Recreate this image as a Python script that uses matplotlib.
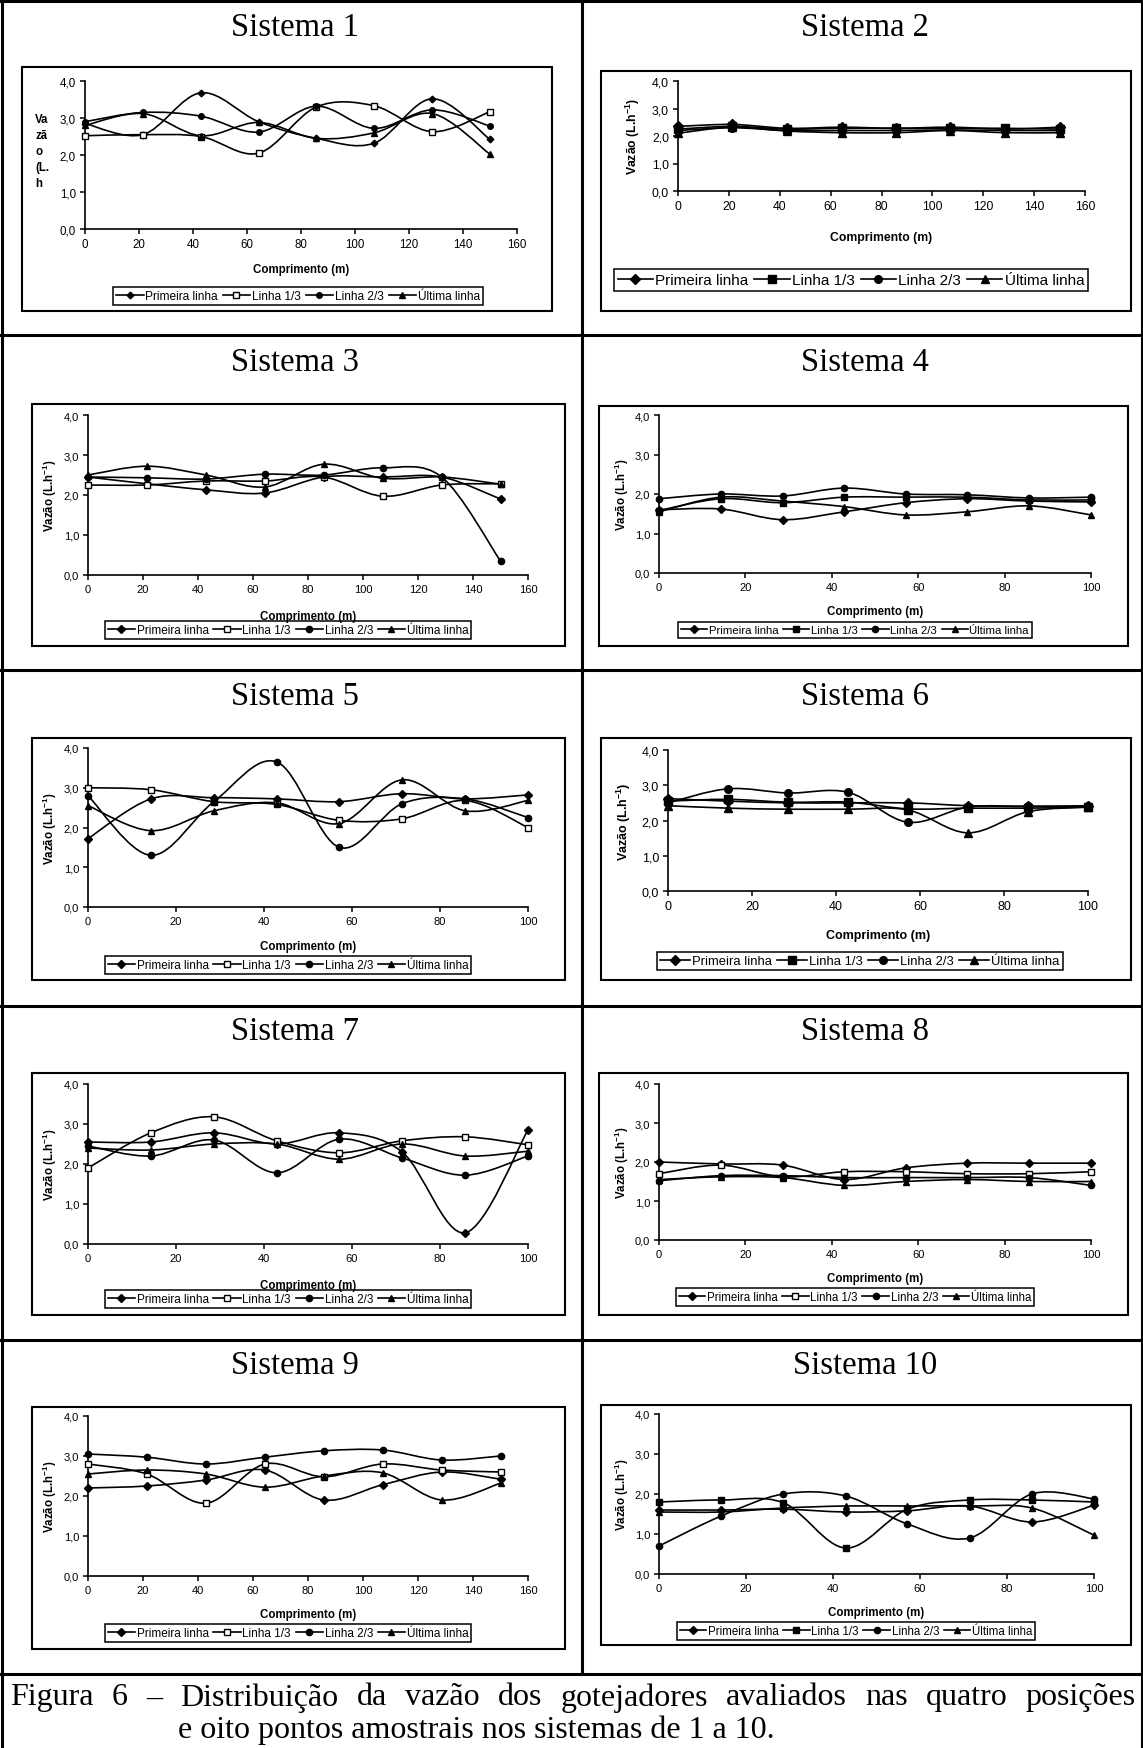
import numpy as np
import matplotlib
matplotlib.use('Agg')
import matplotlib.pyplot as plt
from matplotlib.path import Path
from matplotlib.patches import PathPatch, Rectangle
from matplotlib.lines import Line2D

plt.rcParams['font.family'] = ['Liberation Sans', 'DejaVu Sans']
plt.rcParams['mathtext.fontset'] = 'custom'
plt.rcParams['mathtext.rm'] = 'Liberation Sans:bold'
plt.rcParams['mathtext.it'] = 'Liberation Sans:bold'
plt.rcParams['mathtext.bf'] = 'Liberation Sans:bold'

W, H = 1143, 1749

# comprimento da linha lateral (m), oito pontos amostrais
x150 = [0, 21.4, 42.9, 64.3, 85.7, 107.1, 128.6, 150]
x100 = [0, 14.3, 28.6, 42.9, 57.1, 71.4, 85.7, 100]

series_names = ['Primeira linha', 'Linha 1/3', 'Linha 2/3', 'Última linha']

# vazão (L/h) por sistema e posição
s1_p1 = [2.85, 2.55, 3.68, 2.90, 2.45, 2.32, 3.52, 2.42]
s1_l13 = [2.52, 2.55, 2.50, 2.05, 3.30, 3.33, 2.63, 3.17]
s1_l23 = [2.90, 3.15, 3.05, 2.62, 3.32, 2.72, 3.22, 2.78]
s1_ult = [2.80, 3.12, 2.52, 2.88, 2.45, 2.60, 3.12, 2.02]

s2_p1 = [2.35, 2.42, 2.28, 2.32, 2.28, 2.32, 2.25, 2.32]
s2_l13 = [2.25, 2.35, 2.25, 2.28, 2.28, 2.28, 2.28, 2.25]
s2_l23 = [2.20, 2.30, 2.20, 2.20, 2.20, 2.22, 2.20, 2.20]
s2_ult = [2.10, 2.32, 2.18, 2.12, 2.12, 2.20, 2.12, 2.12]

s3_p1 = [2.45, 2.28, 2.13, 2.05, 2.45, 2.45, 2.45, 1.90]
s3_l13 = [2.25, 2.25, 2.35, 2.35, 2.45, 1.97, 2.25, 2.28]
s3_l23 = [2.45, 2.43, 2.40, 2.52, 2.50, 2.68, 2.45, 0.35]
s3_ult = [2.50, 2.72, 2.50, 2.20, 2.77, 2.42, 2.45, 2.27]

s4_p1 = [1.60, 1.62, 1.35, 1.55, 1.78, 1.88, 1.82, 1.80]
s4_l13 = [1.58, 1.88, 1.78, 1.92, 1.92, 1.92, 1.85, 1.85]
s4_l23 = [1.88, 2.00, 1.95, 2.15, 2.00, 1.98, 1.90, 1.92]
s4_ult = [1.55, 1.92, 1.82, 1.68, 1.47, 1.55, 1.70, 1.47]

s5_p1 = [1.72, 2.72, 2.75, 2.72, 2.65, 2.85, 2.72, 2.82]
s5_l13 = [3.00, 2.95, 2.65, 2.58, 2.18, 2.22, 2.68, 2.00]
s5_l23 = [2.80, 1.30, 2.65, 3.65, 1.50, 2.60, 2.72, 2.25]
s5_ult = [2.55, 1.92, 2.42, 2.62, 2.10, 3.20, 2.42, 2.68]

s6_p1 = [2.62, 2.55, 2.50, 2.50, 2.50, 2.42, 2.40, 2.42]
s6_l13 = [2.55, 2.60, 2.52, 2.52, 2.33, 2.35, 2.35, 2.38]
s6_l23 = [2.50, 2.90, 2.78, 2.80, 1.95, 2.38, 2.40, 2.40]
s6_ult = [2.42, 2.35, 2.32, 2.32, 2.30, 1.65, 2.25, 2.38]

s7_p1 = [2.55, 2.55, 2.78, 2.50, 2.78, 2.30, 0.28, 2.85]
s7_l13 = [1.90, 2.78, 3.18, 2.58, 2.28, 2.58, 2.68, 2.48]
s7_l23 = [2.45, 2.20, 2.60, 1.78, 2.62, 2.15, 1.72, 2.20]
s7_ult = [2.40, 2.35, 2.50, 2.50, 2.12, 2.50, 2.20, 2.32]

s8_p1 = [2.00, 1.95, 1.92, 1.55, 1.85, 1.97, 1.97, 1.97]
s8_l13 = [1.70, 1.92, 1.62, 1.75, 1.75, 1.70, 1.70, 1.75]
s8_l23 = [1.52, 1.65, 1.65, 1.60, 1.60, 1.60, 1.60, 1.40]
s8_ult = [1.55, 1.62, 1.60, 1.40, 1.50, 1.55, 1.50, 1.50]

s9_p1 = [2.20, 2.25, 2.40, 2.65, 1.90, 2.28, 2.60, 2.42]
s9_l13 = [2.80, 2.55, 1.82, 2.80, 2.48, 2.80, 2.65, 2.60]
s9_l23 = [3.05, 2.97, 2.80, 2.97, 3.13, 3.15, 2.90, 3.00]
s9_ult = [2.55, 2.65, 2.55, 2.22, 2.50, 2.58, 1.90, 2.32]

s10_p1 = [1.60, 1.60, 1.62, 1.55, 1.58, 1.70, 1.30, 1.72]
s10_l13 = [1.80, 1.85, 1.78, 0.65, 1.62, 1.85, 1.85, 1.80]
s10_l23 = [0.70, 1.45, 2.00, 1.95, 1.25, 0.90, 2.00, 1.88]
s10_ult = [1.55, 1.55, 1.65, 1.70, 1.70, 1.70, 1.65, 0.97]

systems = [
    (x150, [s1_p1, s1_l13, s1_l23, s1_ult]),
    (x150, [s2_p1, s2_l13, s2_l23, s2_ult]),
    (x150, [s3_p1, s3_l13, s3_l23, s3_ult]),
    (x100, [s4_p1, s4_l13, s4_l23, s4_ult]),
    (x100, [s5_p1, s5_l13, s5_l23, s5_ult]),
    (x100, [s6_p1, s6_l13, s6_l23, s6_ult]),
    (x100, [s7_p1, s7_l13, s7_l23, s7_ult]),
    (x100, [s8_p1, s8_l13, s8_l23, s8_ult]),
    (x150, [s9_p1, s9_l13, s9_l23, s9_ult]),
    (x100, [s10_p1, s10_l13, s10_l23, s10_ult]),
]

caption1 = 'Figura 6 – Distribuição da vazão dos gotejadores avaliados nas quatro posições'
caption2 = 'e oito pontos amostrais nos sistemas de 1 a 10.'

# layout in pixels: title centre, chart box, plot area, legend centre, xlabel y, ylabel x
layout = [
    dict(title=(295, 28), box=(22, 68, 552, 312), ax=(85, 82, 517, 230), leg=(298, 297), xl=270, yl=None, tick=8.3, lab=8.3, legfs=8.6, ms=4.0),
    dict(title=(865, 28), box=(601, 72, 1131, 312), ax=(678, 82, 1085, 192), leg=(851, 281), xl=238, yl=633, tick=8.8, lab=8.8, legfs=11.0, ms=5.5),
    dict(title=(295, 363), box=(32, 405, 565, 647), ax=(88, 416, 528, 576), leg=(288, 631), xl=617, yl=50, tick=8.0, lab=8.3, legfs=8.5, ms=4.5),
    dict(title=(865, 363), box=(599, 407, 1128, 647), ax=(659, 416, 1091, 574), leg=(855, 631), xl=612, yl=622, tick=8.0, lab=8.3, legfs=8.2, ms=4.5),
    dict(title=(295, 697), box=(32, 739, 565, 981), ax=(88, 749, 528, 908), leg=(288, 966), xl=947, yl=50, tick=8.0, lab=8.3, legfs=8.5, ms=4.5),
    dict(title=(865, 697), box=(601, 739, 1131, 981), ax=(668, 751, 1088, 892), leg=(860, 962), xl=936, yl=624, tick=9.0, lab=9.0, legfs=9.4, ms=5.5),
    dict(title=(295, 1032), box=(32, 1074, 565, 1316), ax=(88, 1085, 528, 1245), leg=(288, 1300), xl=1286, yl=50, tick=8.0, lab=8.3, legfs=8.5, ms=4.5),
    dict(title=(865, 1032), box=(599, 1074, 1128, 1316), ax=(659, 1085, 1091, 1241), leg=(855, 1298), xl=1279, yl=622, tick=8.0, lab=8.3, legfs=8.3, ms=4.5),
    dict(title=(295, 1366), box=(32, 1408, 565, 1650), ax=(88, 1417, 528, 1577), leg=(288, 1634), xl=1615, yl=50, tick=8.0, lab=8.3, legfs=8.5, ms=4.5),
    dict(title=(865, 1366), box=(601, 1406, 1131, 1646), ax=(659, 1415, 1094, 1575), leg=(856, 1632), xl=1613, yl=622, tick=8.0, lab=8.3, legfs=8.3, ms=4.5),
]
square_hollow = [True, False, True, False, True, False, True, True, True, False]
markers = ['D', 's', 'o', '^']


def fx(px):
    return px / W


def fy(py):
    return 1 - py / H


def smooth_path(xs, ys):
    # Excel-style smoothed line: cubic Bezier through the data points
    pts = np.column_stack([xs, ys]).astype(float)
    n = len(pts)
    verts = [pts[0]]
    codes = [Path.MOVETO]
    for i in range(n - 1):
        p0 = pts[max(i - 1, 0)]
        p1 = pts[i]
        p2 = pts[i + 1]
        p3 = pts[min(i + 2, n - 1)]
        verts += [p1 + (p2 - p0) / 6, p2 - (p3 - p1) / 6, p2]
        codes += [Path.CURVE4] * 3
    return Path(verts, codes)


fig = plt.figure(figsize=(W / 100, H / 100), dpi=100)
fig.patch.set_facecolor('white')

# table lines
tlw = 2.2
border = [
    ((1.5, 1.5), (1.5, H)),
    ((W - 1.5, W - 1.5), (1.5, H)),
    ((0, W), (1.5, 1.5)),
    ((582, 582), (0, 1675)),
]
for yrow in [336, 671, 1007, 1341, 1675]:
    border.append(((0, W), (yrow, yrow)))
for xs_, ys_ in border:
    fig.add_artist(Line2D([fx(v) for v in xs_], [fy(v) for v in ys_], color='black', lw=tlw,
                          transform=fig.transFigure))

for k, ((xv, data), lay) in enumerate(zip(systems, layout)):
    l, t, r, b = lay['box']
    fig.add_artist(Rectangle((fx(l), fy(b)), fx(r) - fx(l), fy(t) - fy(b), transform=fig.transFigure,
                             facecolor='white', edgecolor='black', lw=1.5, zorder=0))
    fig.text(fx(lay['title'][0]), fy(lay['title'][1]), f'Sistema {k + 1}', family='Liberation Serif',
             fontsize=23.5, ha='center', va='center')

    al, at, ar, ab = lay['ax']
    ax = fig.add_axes([fx(al), fy(ab), fx(ar) - fx(al), fy(at) - fy(ab)])
    ax.patch.set_alpha(0)
    xmax = 160 if xv[-1] > 100 else 100
    ax.set_xlim(0, xmax)
    ax.set_ylim(0, 4)
    ax.set_xticks(np.arange(0, xmax + 1, 20))
    ax.set_yticks(np.arange(0, 4.1, 1.0))
    ax.set_yticklabels([f'{v:.1f}'.replace('.', ',') for v in np.arange(0, 4.1, 1.0)])
    for s in ['top', 'right']:
        ax.spines[s].set_visible(False)
    for s in ['left', 'bottom']:
        ax.spines[s].set_linewidth(1.2)
    ax.tick_params(direction='out', length=3.5, width=1.1, labelsize=lay['tick'], pad=3)

    handles = []
    for i, ys in enumerate(data):
        ax.add_patch(PathPatch(smooth_path(xv, ys), fill=False, edgecolor='black', lw=1.2, zorder=2))
        mfc = 'white' if (i == 1 and square_hollow[k]) else 'black'
        ms = lay['ms'] * (0.85 if i == 0 else 1.0)
        ax.plot(xv, ys, linestyle='none', marker=markers[i], ms=ms, mfc=mfc, mec='black', mew=1.0,
                zorder=3, clip_on=False)
        handles.append(Line2D([], [], color='black', lw=1.2, marker=markers[i], ms=ms, mfc=mfc,
                              mec='black', mew=1.0))

    leg = ax.legend(handles, series_names, loc='center', ncol=4,
                    bbox_to_anchor=(fx(lay['leg'][0]), fy(lay['leg'][1])), bbox_transform=fig.transFigure,
                    fontsize=lay['legfs'], frameon=True, fancybox=False, framealpha=1, edgecolor='black',
                    borderpad=0.25, handlelength=2.3, handletextpad=0.15, columnspacing=0.4,
                    borderaxespad=0)
    leg.get_frame().set_linewidth(1.1)

    fig.text(fx((al + ar) / 2), fy(lay['xl']), 'Comprimento (m)', fontsize=lay['lab'], fontweight='bold',
             ha='center', va='center')
    if lay['yl'] is None:
        fig.text(fx(35), fy(114), 'Va\nzã\no\n(L.\nh', fontsize=lay['lab'], fontweight='bold',
                 ha='left', va='top', linespacing=1.45)
    else:
        fig.text(fx(lay['yl']), fy((at + ab) / 2), r'Vazão (L.h$^{-1}$)', fontsize=lay['lab'],
                 fontweight='bold', rotation=90, ha='center', va='center')

# caption, first line justified across the full width
renderer = fig.canvas.get_renderer()
cap_fs = 23
words = caption1.split(' ')
objs = [fig.text(0, fy(1698), w, family='Liberation Serif', fontsize=cap_fs, ha='left', va='center')
        for w in words]
widths = [o.get_window_extent(renderer).width for o in objs]
left, right = 10, 1136
gap = (right - left - sum(widths)) / (len(words) - 1)
xpos = left
for o, w in zip(objs, widths):
    o.set_x(fx(xpos))
    xpos += w + gap
fig.text(fx(178), fy(1730), caption2, family='Liberation Serif', fontsize=cap_fs, ha='left', va='center')

fig.savefig('out.png', dpi=100)
